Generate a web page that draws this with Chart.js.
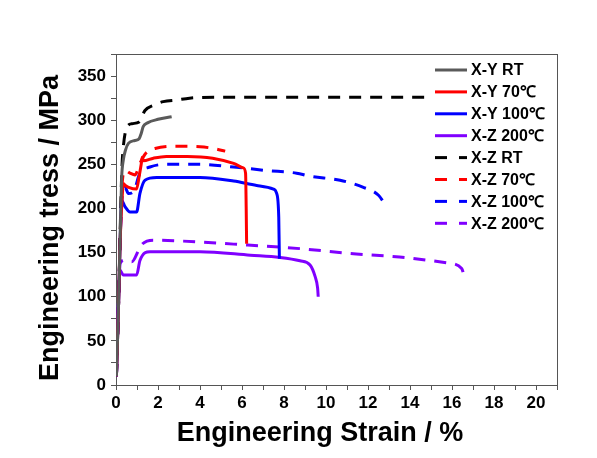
<!DOCTYPE html>
<html><head><meta charset="utf-8">
<script src="https://cdn.jsdelivr.net/npm/chart.js@4"></script>
<style>html,body{margin:0;padding:0;background:#fff;}#wrap{width:597px;height:458px;}</style>
</head><body><div id="wrap"><canvas id="c" width="597" height="458"></canvas></div>
<script>
const seriesLabels = ['X-Y RT','X-Y 70℃','X-Y 100℃','X-Z 200℃','X-Z RT','X-Z 70℃','X-Z 100℃','X-Z 200℃'];
const xTickLabels = [0,2,4,6,8,10,12,14,16,18,20];
const yTickLabels = [0,50,100,150,200,250,300,350];

const xyRT_strain = [0.02,0.12,0.2,0.27,0.35,0.45,0.6,0.9,1.1,1.2,1.3,1.5,2.0,2.65];
const xyRT_stress = [10,90,170,235,255,266,274,277,279,285,293,297,301,304];
const xy70_strain = [0.02,0.12,0.2,0.3,0.35,0.45,0.6,0.98,1.1,1.2,1.25,1.3,1.78,2.4,3.4,4.6,5.6,6.06,6.17,6.2,6.22];
const xy70_stress = [10,90,165,215,228,226,224,222,236,250,258,254,257,259,259,257,251,246,240,200,160];
const xy100_strain = [0.02,0.12,0.2,0.27,0.43,0.67,0.98,1.14,1.38,1.94,4,5.6,6.7,7.5,7.65,7.75,7.78];
const xy100_stress = [10,90,165,209,202,196,196,217,232,235,235,231,226,222,217,190,143];
const xy200_strain = [0.02,0.1,0.19,0.35,0.98,1.14,1.62,4,6.4,7.8,8.76,9.24,9.48,9.6,9.63];
const xy200_stress = [10,80,130,124.5,124.5,141,151,151,147,144.5,140.7,136,123,110,100];
const xzRT_strain = [0.02,0.12,0.2,0.28,0.35,0.5,0.75,1.1,1.38,1.8,2.25,2.9,3.5,5,8,12,14.8];
const xzRT_stress = [10,90,175,245,270,291,296,298,311,317,321,323,325,326,326,326,326];
const xz70_strain = [0.02,0.12,0.2,0.3,0.43,0.67,0.9,1.14,1.4,1.86,3.05,4,4.63,5.2];
const xz70_stress = [10,90,170,230,243,240,238,251,262,268,270.5,270,268,265];
const xz100_strain = [0.02,0.12,0.2,0.3,0.43,0.59,0.83,1.14,1.62,2.41,4,5.59,7.17,8.6,9.24,10.67,11.78,12.5,12.8];
const xz100_stress = [10,90,165,215,224,217,219,240,247,250,250,247,243,240,236.5,232,224,215,205];
const xz200_strain = [0.02,0.1,0.2,0.43,0.75,1.06,1.14,1.78,3.2,5.6,8.76,11.14,13.5,15.75,16.46,16.62];
const xz200_stress = [10,80,138,141.5,139.5,152,156.5,164,163,159.6,154.5,149,145,138.4,132,119];

const strains = [xyRT_strain,xy70_strain,xy100_strain,xy200_strain,xzRT_strain,xz70_strain,xz100_strain,xz200_strain];
const stresses = [xyRT_stress,xy70_stress,xy100_stress,xy200_stress,xzRT_stress,xz70_stress,xz100_stress,xz200_stress];
const colors = ['#5a5a5a','#ff0000','#0000ff','#8000ff','#000000','#ff0000','#0000ff','#8000ff'];
const dashed = [false,false,false,false,true,true,true,true];

const FONT = '"Liberation Sans", Arial, sans-serif';

const datasets = seriesLabels.map((lab,i)=>({
  label: lab,
  data: strains[i].map((x,j)=>({x:x,y:stresses[i][j]})),
  borderColor: colors[i],
  backgroundColor: colors[i],
  borderWidth: 3,
  borderDash: dashed[i] ? [12,9] : [],
  pointRadius: 0,
  showLine: true,
  cubicInterpolationMode: 'monotone',
  fill: false
}));

const decor = {
  id: 'decor',
  afterDraw(chart){
    const {ctx, chartArea:a} = chart;
    ctx.save();
    ctx.strokeStyle = '#555';
    ctx.lineWidth = 1;
    ctx.beginPath();
    ctx.moveTo(a.left, a.top+0.5); ctx.lineTo(a.right+0.5, a.top+0.5);
    ctx.moveTo(a.right+0.5, a.top); ctx.lineTo(a.right+0.5, a.bottom);
    ctx.stroke();
    // legend
    ctx.font = 'bold 16px ' + FONT;
    ctx.textBaseline = 'middle';
    ctx.textAlign = 'left';
    chart.data.datasets.forEach((ds,i)=>{
      const y = 70 + i*21.9;
      ctx.strokeStyle = ds.borderColor;
      ctx.lineWidth = 3;
      ctx.setLineDash(ds.borderDash.length ? [12,12] : []);
      ctx.beginPath(); ctx.moveTo(435,y); ctx.lineTo(467,y); ctx.stroke();
      ctx.setLineDash([]);
      ctx.fillStyle = '#000';
      ctx.fillText(ds.label, 471, y+1);
    });
    // axis titles
    ctx.fillStyle = '#000';
    ctx.textAlign = 'center';
    ctx.font = 'bold 27px ' + FONT;
    ctx.fillText('Engineering Strain / %', 320, 434);
    ctx.translate(51, 228);
    ctx.rotate(-Math.PI/2);
    ctx.fillText('Engineering tress / MPa', 0, 0);
    ctx.restore();
  }
};

new Chart(document.getElementById('c'), {
  type: 'scatter',
  data: { datasets },
  plugins: [decor],
  options: {
    responsive: false,
    animation: false,
    layout: { padding: { top: 54, right: 40, left: 0, bottom: 0 } },
    plugins: { legend: { display: false }, tooltip: { enabled: false } },
    scales: {
      x: {
        type: 'linear', min: 0, max: 21,
        afterFit(s){ s.height = 73; },
        border: { display: true, color: '#555', width: 1 },
        grid: { drawOnChartArea: false, drawTicks: true, tickLength: 5, color: '#555' },
        ticks: {
          stepSize: 1, includeBounds: false, autoSkip: false, maxRotation: 0,
          color: '#000', padding: 3,
          font: { family: FONT, size: 17, weight: 'bold' },
          callback: v => xTickLabels.includes(v) ? String(v) : ''
        }
      },
      y: {
        type: 'linear', min: 0, max: 375,
        afterFit(s){ s.width = 116; },
        border: { display: true, color: '#555', width: 1 },
        grid: { drawOnChartArea: false, drawTicks: true, tickLength: 5, color: '#555' },
        ticks: {
          stepSize: 25, includeBounds: false, autoSkip: false,
          color: '#000', padding: 5,
          font: { family: FONT, size: 17, weight: 'bold' },
          callback: v => yTickLabels.includes(v) ? String(v) : ''
        }
      }
    }
  }
});
</script></body></html>
